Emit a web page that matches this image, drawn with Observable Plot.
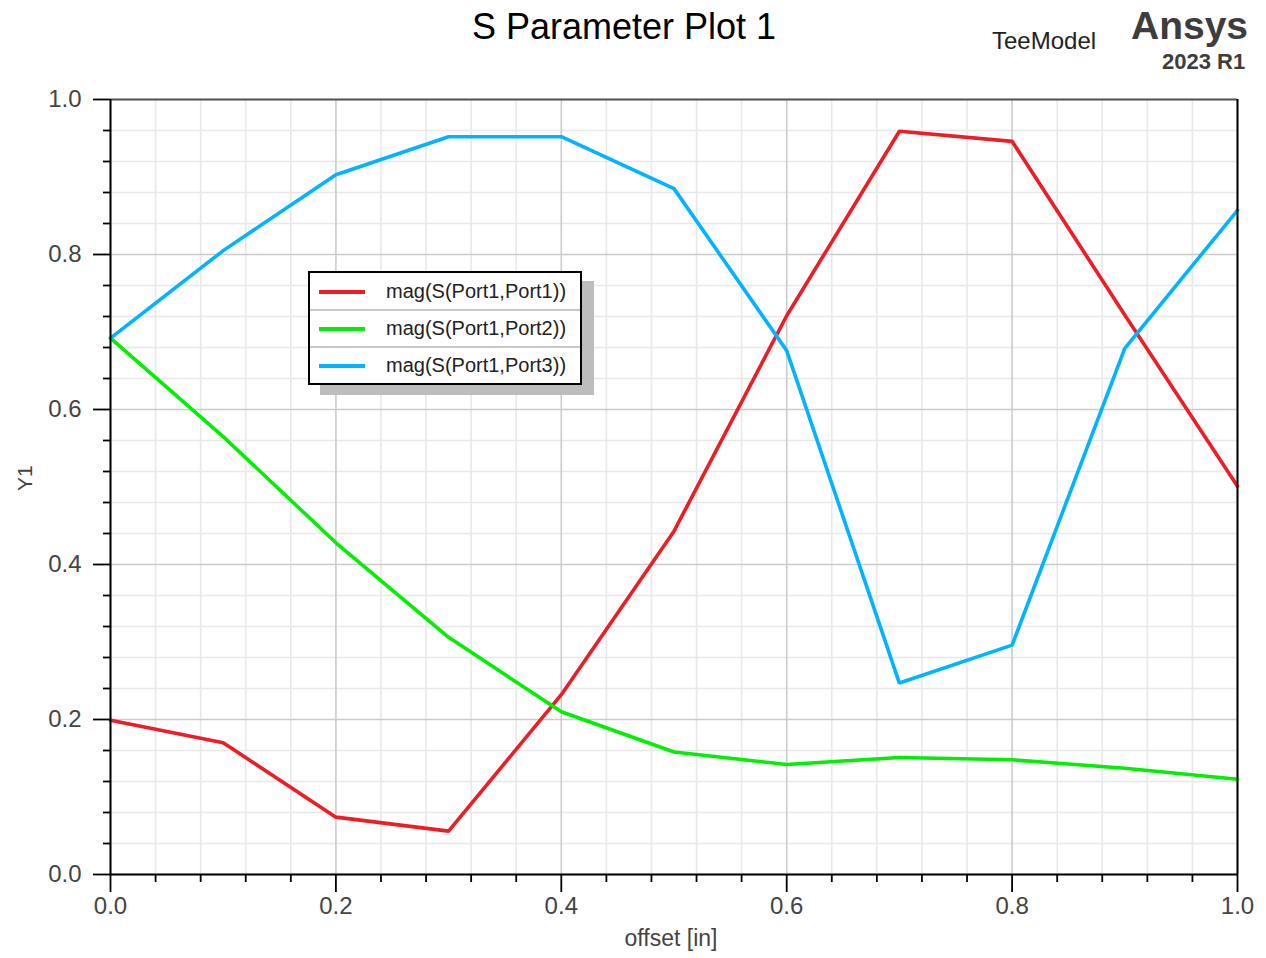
<!DOCTYPE html>
<html><head><meta charset="utf-8">
<script src="https://cdn.jsdelivr.net/npm/d3@7"></script>
<script src="https://cdn.jsdelivr.net/npm/@observablehq/plot@0.6"></script>
<style>
body{margin:0;background:#fff;font-family:"Liberation Sans",Arial,sans-serif;}
#wrap{position:relative;width:1266px;height:958px;overflow:hidden;}
#wrap svg{position:absolute;left:0;top:0;}
.ov{position:absolute;white-space:nowrap;line-height:1;}
#title{left:472px;top:9px;font-size:36px;color:#000;}
#model{left:992px;top:29px;font-size:24px;color:#222;}
#brand{left:1131px;top:8px;font-size:39px;font-weight:bold;color:#3d3d3d;line-height:0.9;}
#ver{left:1162px;top:53px;font-size:22px;font-weight:bold;color:#3d3d3d;line-height:0.8;}
#legend{position:absolute;left:308px;top:271px;width:270px;height:110px;border:2px solid #000;background:#fff;box-shadow:12px 10px 0 #bdbdbd;}
.row{position:absolute;left:0;width:270px;height:37px;}
.row .sw{position:absolute;left:9px;top:17px;width:46px;height:4px;}
.row .lb{position:absolute;left:76px;top:7px;font-size:20px;color:#222;}
.sep{position:absolute;left:0;width:270px;height:1.5px;background:#c8c8c8;}
</style></head><body>
<div id="wrap"></div>
<script>
// ---- data ----
const offsets = [0, 0.1, 0.2, 0.3, 0.4, 0.5, 0.6, 0.7, 0.8, 0.9, 1.0];
const s11 = [0.199, 0.170, 0.074, 0.056, 0.232, 0.443, 0.721, 0.959, 0.946, 0.722, 0.501];
const s12 = [0.692, 0.565, 0.428, 0.306, 0.210, 0.158, 0.142, 0.151, 0.148, 0.137, 0.123];
const s13 = [0.692, 0.805, 0.903, 0.952, 0.952, 0.885, 0.676, 0.247, 0.296, 0.679, 0.857];
const seriesNames = ["mag(S(Port1,Port1))", "mag(S(Port1,Port2))", "mag(S(Port1,Port3))"];
const seriesColors = ["#ee1c25", "#00f000", "#00b4ff"];
const majorTicks = [0, 0.2, 0.4, 0.6, 0.8, 1.0];
const minorTicks = [0.04, 0.08, 0.12, 0.16, 0.24, 0.28, 0.32, 0.36, 0.44, 0.48, 0.52, 0.56, 0.64, 0.68, 0.72, 0.76, 0.84, 0.88, 0.92, 0.96];
const xLabel = "offset [in]";
const yLabel = "Y1";

const seriesValues = [s11, s12, s13];
const rows = [];
seriesValues.forEach((vals, i) => vals.forEach((v, j) => rows.push({series: seriesNames[i], x: offsets[j], y: v})));

const fmt = d3.format(".1f");
const chart = Plot.plot({
  width: 1266, height: 958,
  marginLeft: 110, marginRight: 29, marginTop: 99, marginBottom: 84,
  style: {fontFamily: "'Liberation Sans', Arial, sans-serif", color: "#444", background: "#fff"},
  x: {domain: [0, 1]},
  y: {domain: [0, 1]},
  color: {domain: seriesNames, range: seriesColors},
  marks: [
    Plot.gridX(minorTicks, {stroke: "#e8e8e8", strokeOpacity: 1, strokeWidth: 1.6}),
    Plot.gridY(minorTicks, {stroke: "#e8e8e8", strokeOpacity: 1, strokeWidth: 1.6}),
    Plot.gridX(majorTicks, {stroke: "#cbcbcb", strokeOpacity: 1, strokeWidth: 1.6}),
    Plot.gridY(majorTicks, {stroke: "#cbcbcb", strokeOpacity: 1, strokeWidth: 1.6}),
    Plot.line(rows, {x: "x", y: "y", z: "series", stroke: "series", strokeWidth: 3.6, strokeLinejoin: "miter"}),
    Plot.ruleY([1], {stroke: "#555", strokeWidth: 2}),
    Plot.ruleX([1], {stroke: "#000", strokeWidth: 2}),
    Plot.ruleX([0], {stroke: "#000", strokeWidth: 2}),
    Plot.ruleY([0], {stroke: "#000", strokeWidth: 2}),
    Plot.axisX(majorTicks, {tickSize: 18, tickPadding: 4, tickFormat: fmt, fontSize: 24, stroke: "#000", strokeWidth: 1.8, fill: "#444", label: null}),
    Plot.axisX(minorTicks, {tickSize: 8, tickFormat: () => "", stroke: "#000", strokeWidth: 1.8, label: null}),
    Plot.axisY(majorTicks, {tickSize: 17, tickPadding: 12, tickFormat: fmt, fontSize: 24, stroke: "#000", strokeWidth: 1.8, fill: "#444", label: null}),
    Plot.axisY(minorTicks, {tickSize: 7, tickFormat: () => "", stroke: "#000", strokeWidth: 1.8, label: null}),
    Plot.text([xLabel], {frameAnchor: "bottom", dy: 71, dx: -3, fontSize: 23, fill: "#444"}),
    Plot.text([yLabel], {frameAnchor: "left", dx: -85, dy: 4, rotate: -90, fontSize: 21, fill: "#444"})
  ]
});
const wrap = document.getElementById("wrap");
wrap.appendChild(chart);

function addText(id, txt) {
  const d = document.createElement("div");
  d.className = "ov"; d.id = id; d.textContent = txt; wrap.appendChild(d);
}
addText("title", "S Parameter Plot 1");
addText("model", "TeeModel");
addText("brand", "Ansys");
addText("ver", "2023 R1");

const lg = document.createElement("div");
lg.id = "legend";
seriesNames.forEach((name, i) => {
  const r = document.createElement("div");
  r.className = "row"; r.style.top = (i * 37) + "px";
  const sw = document.createElement("div"); sw.className = "sw"; sw.style.background = seriesColors[i];
  const lb = document.createElement("div"); lb.className = "lb"; lb.textContent = name;
  r.appendChild(sw); r.appendChild(lb); lg.appendChild(r);
  if (i > 0) { const s = document.createElement("div"); s.className = "sep"; s.style.top = (i * 37 - 1) + "px"; lg.appendChild(s); }
});
wrap.appendChild(lg);
</script>
</body></html>
